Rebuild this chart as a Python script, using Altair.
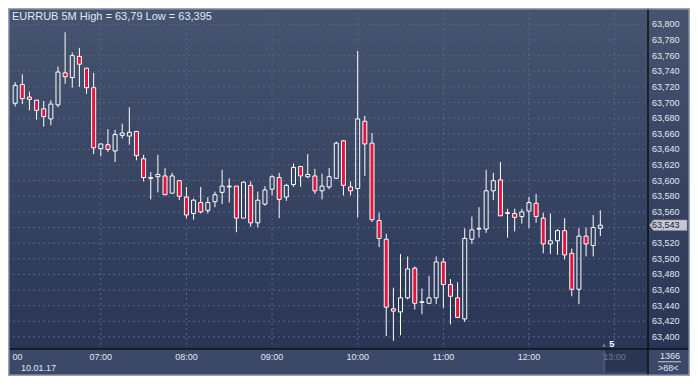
import altair as alt
import pandas as pd

# ---------------- data (EURRUB, 5-minute candles, 10.01.17) ----------------
times = pd.date_range("2017-01-10 06:00", periods=83, freq="5min")

opens = [63.699, 63.723, 63.707, 63.703, 63.692, 63.679, 63.697, 63.738, 63.732, 63.759, 63.744, 63.719,
         63.641, 63.646, 63.638, 63.658, 63.657, 63.663, 63.628, 63.603, 63.605, 63.606, 63.584, 63.600,
         63.579, 63.558, 63.572, 63.562, 63.573, 63.585, 63.592, 63.593, 63.552, 63.594, 63.546, 63.570,
         63.589, 63.604, 63.579, 63.595, 63.618, 63.605, 63.606, 63.587, 63.592, 63.603, 63.651, 63.592,
         63.590, 63.676, 63.648, 63.549, 63.525, 63.436, 63.432, 63.450, 63.488, 63.444, 63.443, 63.450,
         63.496, 63.467, 63.450, 63.423, 63.525, 63.538, 63.538, 63.587, 63.601, 63.558, 63.558, 63.554,
         63.561, 63.571, 63.552, 63.519, 63.523, 63.536, 63.507, 63.461, 63.529, 63.517, 63.539]
highs = [63.726, 63.736, 63.714, 63.703, 63.702, 63.703, 63.746, 63.790, 63.764, 63.770, 63.744, 63.738,
         63.647, 63.666, 63.665, 63.673, 63.694, 63.663, 63.633, 63.611, 63.633, 63.616, 63.610, 63.600,
         63.592, 63.577, 63.592, 63.579, 63.586, 63.614, 63.603, 63.593, 63.599, 63.599, 63.586, 63.593,
         63.607, 63.610, 63.596, 63.622, 63.619, 63.634, 63.615, 63.609, 63.616, 63.650, 63.652, 63.599,
         63.766, 63.683, 63.661, 63.559, 63.532, 63.463, 63.506, 63.503, 63.490, 63.462, 63.478, 63.503,
         63.501, 63.474, 63.470, 63.539, 63.554, 63.566, 63.614, 63.610, 63.624, 63.564, 63.564, 63.564,
         63.579, 63.583, 63.559, 63.558, 63.538, 63.552, 63.513, 63.539, 63.540, 63.556, 63.562]
lows = [63.695, 63.698, 63.690, 63.678, 63.669, 63.671, 63.694, 63.724, 63.719, 63.720, 63.711, 63.634,
        63.631, 63.637, 63.624, 63.654, 63.646, 63.626, 63.599, 63.576, 63.585, 63.582, 63.583, 63.575,
        63.552, 63.550, 63.558, 63.558, 63.566, 63.570, 63.572, 63.534, 63.552, 63.541, 63.540, 63.568,
        63.581, 63.552, 63.574, 63.592, 63.592, 63.603, 63.583, 63.576, 63.589, 63.602, 63.581, 63.581,
        63.553, 63.606, 63.547, 63.515, 63.401, 63.395, 63.402, 63.448, 63.435, 63.429, 63.443, 63.442,
        63.437, 63.416, 63.424, 63.419, 63.519, 63.527, 63.533, 63.575, 63.555, 63.527, 63.535, 63.545,
        63.539, 63.546, 63.507, 63.506, 63.505, 63.499, 63.452, 63.442, 63.503, 63.503, 63.529]
closes = [63.722, 63.705, 63.704, 63.690, 63.682, 63.698, 63.739, 63.733, 63.760, 63.749, 63.719, 63.642,
          63.647, 63.640, 63.659, 63.661, 63.662, 63.632, 63.604, 63.604, 63.608, 63.582, 63.606, 63.580,
          63.556, 63.575, 63.560, 63.572, 63.582, 63.593, 63.593, 63.552, 63.598, 63.546, 63.575, 63.588,
          63.605, 63.576, 63.594, 63.617, 63.606, 63.608, 63.587, 63.593, 63.605, 63.648, 63.594, 63.587,
          63.679, 63.647, 63.550, 63.526, 63.438, 63.433, 63.450, 63.487, 63.443, 63.445, 63.450, 63.496,
          63.467, 63.452, 63.425, 63.526, 63.537, 63.539, 63.587, 63.600, 63.555, 63.559, 63.553, 63.560,
          63.572, 63.554, 63.519, 63.523, 63.536, 63.505, 63.461, 63.529, 63.519, 63.540, 63.543]

y_ticks = [63.40, 63.42, 63.44, 63.46, 63.48, 63.50, 63.52, 63.54, 63.56, 63.58, 63.60,
           63.62, 63.64, 63.66, 63.68, 63.70, 63.72, 63.74, 63.76, 63.78, 63.80]
hour_ticks = pd.date_range("2017-01-10 07:00", periods=7, freq="h")

title_text = "EURRUB 5M High = 63,79 Low = 63,395"
date_text = "10.01.17"

df = pd.DataFrame({"time": times, "open": opens, "high": highs, "low": lows, "close": closes})
ygrid_df = pd.DataFrame({"v": y_ticks})
xgrid_df = pd.DataFrame({"t": hour_ticks})
last_df = pd.DataFrame({"p": [closes[-1]]})
one = pd.DataFrame({"k": [0]})

# ---------------- styling ----------------
W, H = 640, 341
TW, TH = 682, 368
FONT = "Liberation Sans"
LBL = "#e0e7f2"
GRID = "#56658a"
RED = "#e4143c"


def dt(h, m=0, s=0):
    return alt.DateTime(year=2017, month=1, date=10, hours=h, minutes=m, seconds=s)


xscale = alt.Scale(domain=[dt(5, 58, 29), dt(13, 19, 54)], nice=False)
yscale = alt.Scale(domain=[63.3845, 63.821], nice=False, zero=False)

bg = alt.Chart(one).mark_rect(
    color=alt.Gradient(gradient="linear",
                       stops=[alt.GradientStop(color="#46546f", offset=0),
                              alt.GradientStop(color="#2a3556", offset=1)],
                       x1=0, x2=0, y1=0, y2=1)
).encode(x=alt.value(0), x2=alt.value(TW), y=alt.value(0), y2=alt.value(H))

box13 = alt.Chart(one).mark_rect(color="#2b3553").encode(
    x=alt.value(597.6), x2=alt.value(W), y=alt.value(H + 1), y2=alt.value(364))
line13 = alt.Chart(one).mark_rule(color="#4f586c", strokeWidth=1.5).encode(
    x=alt.value(596), y=alt.value(H + 2), y2=alt.value(365))

ygrid = alt.Chart(ygrid_df).mark_rule(color=GRID, strokeDash=[2, 3], strokeWidth=1).encode(
    y=alt.Y("v:Q", scale=yscale, axis=None), x=alt.value(0), x2=alt.value(W))
xgrid = alt.Chart(xgrid_df).mark_rule(color=GRID, strokeDash=[2, 3], strokeWidth=1).encode(
    x=alt.X("t:T", scale=xscale, axis=None), y=alt.value(0), y2=alt.value(H))

# axis labels (price on the right, time along the bottom); the tick hidden by the price tag is dropped
ylabels = alt.Chart(ygrid_df).transform_filter(
    f"abs(datum.v - {closes[-1]}) > 0.008"
).transform_calculate(
    lbl="replace(format(datum.v, '.3f'), '.', ',')"
).mark_text(align="left", baseline="middle", font=FONT, fontSize=9, color=LBL).encode(
    y=alt.Y("v:Q", scale=yscale, axis=None), x=alt.value(W + 4), text="lbl:N")
xlabels = alt.Chart(xgrid_df).transform_calculate(
    lbl="timeFormat(datum.t, '%H:%M')"
).mark_text(align="center", baseline="middle", font=FONT, fontSize=9).encode(
    x=alt.X("t:T", scale=xscale, axis=None), y=alt.value(348.5), text="lbl:N",
    color=alt.condition("hours(datum.t) == 13", alt.value("#6f7a92"), alt.value(LBL)))

base = alt.Chart(df).transform_calculate(
    top="max(datum.open, datum.close)", bot="min(datum.open, datum.close)")
xenc = alt.X("time:T", scale=xscale, axis=None)

upper = base.mark_rule(color="white", strokeWidth=1, clip=True).encode(
    x=xenc, y=alt.Y("high:Q", scale=yscale, axis=None), y2="top:Q")
lower = base.mark_rule(color="white", strokeWidth=1, clip=True).encode(
    x=xenc, y=alt.Y("bot:Q", scale=yscale, axis=None), y2="low:Q")
body = base.mark_bar(size=4, stroke="white", strokeWidth=1, fill=RED, clip=True).encode(
    x=xenc, y=alt.Y("open:Q", scale=yscale, axis=None), y2="close:Q",
    fillOpacity=alt.condition("datum.close >= datum.open", alt.value(0), alt.value(1)))

hline = alt.Chart(one).mark_rule(color="#0e1119", strokeWidth=1.5).encode(
    x=alt.value(0), x2=alt.value(TW), y=alt.value(H))
vline = alt.Chart(one).mark_rule(color="#0e1119", strokeWidth=1.5).encode(
    x=alt.value(W), y=alt.value(0), y2=alt.value(TH))
frame = alt.Chart(one).mark_rect(fillOpacity=0, stroke="#97a3b8", strokeWidth=1.5).encode(
    x=alt.value(0.75), x2=alt.value(TW - 0.75), y=alt.value(0.75), y2=alt.value(TH - 0.75))


def label(text, x, y, align="left", color=LBL, size=9, weight="normal"):
    return alt.Chart(one).mark_text(text=text, align=align, baseline="middle", font=FONT,
                                    fontSize=size, color=color, fontWeight=weight).encode(
        x=alt.value(x), y=alt.value(y))


title = label(title_text, 4, 8.5, size=11)
date_lbl = label(date_text, 13, 359.8)
zero_lbl = label("00", 4.4, 348.5)
five = label("5", 603.8, 335.8, align="center", color="white", weight="bold")
tri = alt.Chart(one).mark_point(shape="triangle-up", filled=True, color="#707a90", size=16, opacity=1).encode(
    x=alt.value(596), y=alt.value(337))
n1366 = label("1366", 662, 347.8, align="center")
uline = alt.Chart(one).mark_rule(color="#c8d0de", strokeWidth=1).encode(
    x=alt.value(650), x2=alt.value(673), y=alt.value(353.8))
n88 = label(">88<", 660.3, 359.8, align="center")

PATH = "M-1,0L-0.79,-0.28L1,-0.28L1,0.28L-0.79,0.28Z"
pbox = alt.Chart(last_df).mark_point(shape=PATH, size=37.4 ** 2, filled=True, fill="#c4c9d2",
                                     stroke="#8a92a3", strokeWidth=0.6, opacity=1, fillOpacity=1).encode(
    x=alt.value(660.3), y=alt.Y("p:Q", scale=yscale, axis=None))
ptext = alt.Chart(last_df).transform_calculate(
    lbl="replace(format(datum.p, '.3f'), '.', ',')"
).mark_text(align="left", baseline="middle", font=FONT, fontSize=9, color="#1a2030").encode(
    x=alt.value(W + 4), y=alt.Y("p:Q", scale=yscale, axis=None), text="lbl:N")

chart = alt.layer(
    bg, box13, line13, ygrid, xgrid, upper, lower, body, hline, vline, frame,
    ylabels, xlabels, title, date_lbl, zero_lbl, tri, five, n1366, uline, n88, pbox, ptext
).properties(
    width=W, height=H,
    padding={"left": 0, "top": 0, "right": TW - W, "bottom": TH - H},
    autosize=alt.AutoSizeParams(type="none"),
).configure(background="#3b4868").configure_view(strokeWidth=0, strokeOpacity=0)

chart.save("out.html", embed_options={"renderer": "svg", "actions": False})
